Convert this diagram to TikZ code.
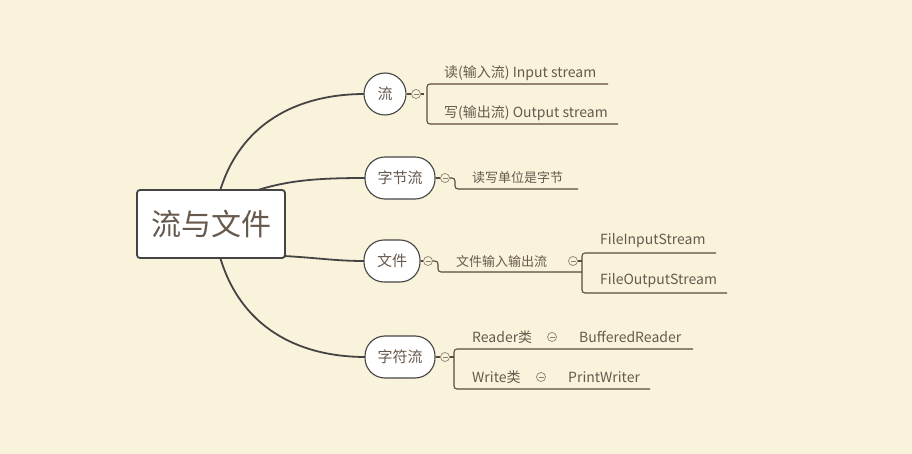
\documentclass[tikz,border=0pt]{standalone}
\usepackage{fontspec}
\setmainfont{Noto Sans CJK SC}
\definecolor{bg}{HTML}{FAF3DC}
\definecolor{txt}{HTML}{67594D}
\definecolor{edge}{HTML}{444444}
\definecolor{br}{HTML}{5A4A3A}
\definecolor{mn}{HTML}{8A8070}
\begin{document}
\begin{tikzpicture}[x=1pt,y=-1pt,
  rootbox/.style={draw=edge,line width=1.8pt,rounded corners=3pt,fill=white,minimum width=148pt,minimum height=68pt,inner sep=0pt,font=\fontsize{30}{32}\selectfont,text=txt},
  topic/.style={draw=edge,line width=1.1pt,rounded corners=20pt,fill=white,minimum height=42pt,inner sep=0pt,font=\fontsize{15}{17}\selectfont,text=txt},
  lbl/.style={inner sep=0pt,anchor=west,font=\fontsize{14}{16}\selectfont,text=txt},
  sml/.style={inner sep=0pt,anchor=west,font=\fontsize{13}{15}\selectfont,text=txt},
  mainedge/.style={draw=edge,line width=1.8pt},
  brline/.style={draw=br,line width=1.1pt,rounded corners=3pt},
  minus/.style={circle,draw=mn,line width=0.7pt,minimum size=9pt,inner sep=0pt,fill=bg,
     path picture={\draw[mn,line width=0.7pt] ([xshift=-2.5pt]path picture bounding box.center) -- ([xshift=2.5pt]path picture bounding box.center);}}
]
\fill[bg] (0,0) rectangle (912,454);
\useasboundingbox (0,0) rectangle (912,454);

% main edges (under nodes)
\coordinate (r1) at (220,191);
\coordinate (r2) at (258,190);
\coordinate (r3) at (284,256);
\coordinate (r4) at (220,257);
\coordinate (t1) at (365,94);
\coordinate (t2) at (366,178);
\coordinate (t3) at (365,261);
\coordinate (t4) at (366,357);
\draw[mainedge] (r1) .. controls (240,125) and (295,94) .. (t1);
\draw[mainedge] (r2) .. controls (290,180) and (320,178) .. (t2);
\draw[mainedge] (r3) .. controls (320,258) and (335,261) .. (t3);
\draw[mainedge] (r4) .. controls (240,325) and (295,357) .. (t4);

\node[rootbox] (root) at (211,224) {流与文件};

\node[topic,minimum width=42pt,rounded corners=21pt] (n1) at (385,94) {流};
\node[topic,minimum width=70pt] (n2) at (400,178) {字节流};
\node[topic,minimum width=56pt] (n3) at (392,261) {文件};
\node[topic,minimum width=70pt] (n4) at (400,357) {字符流};

% branch 1
\node[minus] (m1) at (416,94) {};
\draw[brline] (n1.east) -- (m1.west);
\coordinate (b1a) at (608,84);
\coordinate (b1b) at (618,124);
\draw[brline] (m1.east) -- (424,94);
\draw[brline] (b1a) -- (427,84) -- (427,124) -- (b1b);
\node[lbl] (l11) at (444,73) {读(输入流) Input stream};
\node[lbl] (l12) at (444,113) {写(输出流) Output stream};

% branch 2
\node[minus] (m2) at (445,178) {};
\draw[brline] (n2.east) -- (m2.west);
\coordinate (b2) at (578,189);
\draw[brline] (m2.east) -- (455,178) -- (455,189) -- (b2);
\node[sml] (l21) at (472,178) {读写单位是字节};

% branch 3
\node[minus] (m3) at (428,261) {};
\draw[brline] (n3.east) -- (m3.west);
\node[minus] (m3b) at (573,261) {};
\draw[brline] (m3.east) -- (438,261) -- (438,272) -- (582,272);
\node[sml] (l31) at (456,262) {文件输入输出流};
\coordinate (b3a) at (716,253);
\coordinate (b3b) at (727,293);
\draw[brline] (m3b.east) -- (582,261);
\draw[brline] (b3a) -- (582,253) -- (582,293) -- (b3b);
\node[lbl] (l32) at (600,241) {FileInputStream};
\node[lbl] (l33) at (600,281) {FileOutputStream};

% branch 4
\node[minus] (m4) at (445,357) {};
\draw[brline] (n4.east) -- (m4.west);
\coordinate (b4a) at (693,349);
\coordinate (b4b) at (650,389);
\draw[brline] (m4.east) -- (454,357);
\draw[brline] (b4a) -- (454,349) -- (454,389) -- (b4b);
\node[lbl] (l41) at (472,337) {Reader类};
\node[minus] (m41) at (552,337) {};
\node[lbl] (l42) at (579,337) {BufferedReader};
\node[lbl] (l43) at (472,377) {Write类};
\node[minus] (m42) at (541,377) {};
\node[lbl] (l44) at (568,377) {PrintWriter};
\end{tikzpicture}
\end{document}
